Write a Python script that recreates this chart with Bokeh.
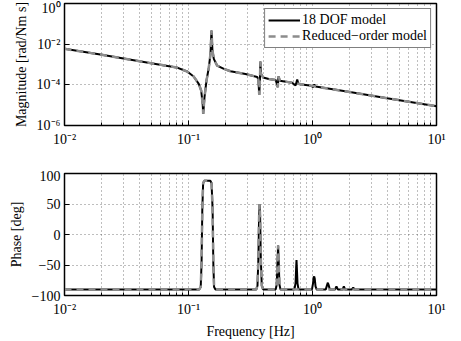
from bokeh.plotting import figure
from bokeh.models import Range1d, FixedTicker, Legend, LegendItem
from bokeh.layouts import column
from bokeh.embed import file_html
from bokeh.resources import INLINE

FONT = "Liberation Serif"

# ---- data (frequency in Hz) ----
freq_mag = [0.01, 0.02, 0.05, 0.08, 0.0976, 0.110, 0.121, 0.1265, 0.130, 0.1314,
            0.1346, 0.1397, 0.146, 0.1504, 0.1532, 0.156, 0.160, 0.170, 0.193,
            0.218, 0.288, 0.358, 0.366, 0.372, 0.377, 0.380, 0.384, 0.400, 0.444,
            0.505, 0.525, 0.532, 0.545, 0.686, 0.730, 0.753, 0.770, 0.980, 1.010,
            1.035, 1.060, 2.0, 4.0, 10.0]
mag_full = [5.9e-3, 3.0e-3, 1.15e-3, 7.2e-4, 4.5e-4, 2.56e-4, 1.12e-4, 5.26e-5, 1.2e-5, 3.76e-6,
            2.46e-5, 1.63e-4, 7.36e-4, 3.36e-3, 4.7e-2, 4.88e-3, 1.9e-3, 8.9e-4, 6.1e-4,
            4.68e-4, 3.4e-4, 2.45e-4, 1.8e-4, 3.2e-5, 2.0e-4, 1.4e-3, 3.5e-4, 2.3e-4, 1.95e-4,
            1.72e-4, 7.6e-5, 2.65e-4, 1.6e-4, 1.26e-4, 9.3e-5, 1.82e-4, 1.1e-4, 8.9e-5, 7.5e-5,
            1.05e-4, 8.3e-5, 4.4e-5, 2.2e-5, 8.9e-6]

freq_mag_red = [0.01, 0.02, 0.05, 0.08, 0.0976, 0.110, 0.121, 0.1265, 0.130, 0.1314,
                0.1346, 0.1397, 0.146, 0.1504, 0.1532, 0.156, 0.160, 0.170, 0.193,
                0.218, 0.288, 0.358, 0.366, 0.372, 0.377, 0.380, 0.384, 0.400, 0.444,
                0.505, 0.525, 0.532, 0.545, 0.686, 0.980, 2.0, 4.0, 10.0]
mag_red = [5.9e-3, 3.0e-3, 1.15e-3, 7.2e-4, 4.5e-4, 2.56e-4, 1.12e-4, 5.26e-5, 1.2e-5, 3.76e-6,
           2.46e-5, 1.63e-4, 7.36e-4, 3.36e-3, 4.7e-2, 4.88e-3, 1.9e-3, 8.9e-4, 6.1e-4,
           4.68e-4, 3.4e-4, 2.45e-4, 1.8e-4, 3.2e-5, 2.0e-4, 1.4e-3, 3.5e-4, 2.3e-4, 1.95e-4,
           1.72e-4, 7.6e-5, 2.65e-4, 1.6e-4, 1.26e-4, 8.9e-5, 4.4e-5, 2.2e-5, 8.9e-6]

freq_phase = [0.01, 0.122, 0.1255, 0.1275, 0.1292, 0.1312, 0.134, 0.150, 0.1535, 0.1565,
              0.1585, 0.1608, 0.165, 0.352, 0.360, 0.366, 0.371, 0.3745, 0.378, 0.383,
              0.390, 0.400, 0.505, 0.515, 0.522, 0.528, 0.534, 0.541, 0.552, 0.715,
              0.730, 0.738, 0.743, 0.748, 0.757, 0.772, 0.990, 1.010, 1.022, 1.032,
              1.042, 1.058, 1.080, 1.280, 1.310, 1.330, 1.350, 1.380, 1.520, 1.560,
              1.600, 1.750, 1.790, 1.830, 2.080, 2.130, 2.180, 10.0]
phase_full = [-90, -90, -86, -45, 40, 84, 88, 88, 84, 40,
              -45, -86, -90, -90, -84, -40, 30, 50, 30, -40,
              -84, -90, -90, -82, -45, -18, -45, -82, -90, -90,
              -80, -55, -42, -55, -80, -90, -90, -80, -70, -69,
              -72, -85, -90, -90, -83, -79, -83, -90, -90, -85,
              -90, -90, -85, -90, -90, -87, -90, -90]

freq_phase_red = [0.01, 0.122, 0.1255, 0.1275, 0.1292, 0.1312, 0.134, 0.150, 0.1535, 0.1565,
                  0.1585, 0.1608, 0.165, 0.352, 0.360, 0.366, 0.371, 0.3745, 0.378, 0.383,
                  0.390, 0.400, 0.505, 0.515, 0.522, 0.528, 0.534, 0.541, 0.552, 10.0]
phase_red = [-90, -90, -86, -45, 40, 84, 88, 88, 84, 40,
             -45, -86, -90, -90, -84, -40, 30, 50, 30, -40,
             -84, -90, -90, -82, -45, -18, -45, -82, -90, -90]

x_ticks = [0.01, 0.1, 1, 10]
x_tick_labels = ["10⁻²", "10⁻¹", "10⁰", "10¹"]
mag_ticks = [1e-6, 1e-4, 1e-2, 1]
mag_tick_labels = ["10⁻⁶", "10⁻⁴", "10⁻²", "10⁰"]
phase_ticks = [-100, -50, 0, 50, 100]
phase_tick_labels = ["−100", "−50", "0", "50", "100"]
series_names = ["18 DOF model", "Reduced−order model"]

x_minor = [m * d for d in [0.01, 0.1, 1] for m in range(2, 10)]


def style(p, yticks, ylabels, ylabel, xlabel=None):
    p.outline_line_color = "black"
    p.outline_line_width = 1.5
    p.background_fill_color = "white"
    p.border_fill_color = "white"
    p.xaxis.ticker = FixedTicker(ticks=x_ticks, minor_ticks=x_minor)
    p.xaxis.major_label_overrides = dict(zip(x_ticks, x_tick_labels))
    p.yaxis.ticker = FixedTicker(ticks=yticks, minor_ticks=[])
    p.yaxis.major_label_overrides = dict(zip(yticks, ylabels))
    for ax in list(p.xaxis) + list(p.yaxis):
        ax.axis_line_color = "black"
        ax.axis_line_width = 1
        ax.major_tick_in = 5
        ax.major_tick_out = 0
        ax.minor_tick_in = 3
        ax.minor_tick_out = 0
        ax.major_tick_line_color = "black"
        ax.minor_tick_line_color = "black"
        ax.major_label_text_font = FONT
        ax.major_label_text_font_size = "14px"
        ax.major_label_text_color = "black"
        ax.axis_label_text_font = FONT
        ax.axis_label_text_font_size = "14px"
        ax.axis_label_text_font_style = "normal"
        ax.axis_label_text_color = "black"
    p.xaxis.major_label_standoff = 6
    p.yaxis.major_label_standoff = 4
    p.yaxis.axis_label = ylabel
    p.yaxis.axis_label_standoff = 5
    if xlabel:
        p.xaxis.axis_label = xlabel
        p.xaxis.axis_label_standoff = 4
    for g in (p.xgrid, p.ygrid):
        g.grid_line_color = "#444444"
        g.grid_line_alpha = 0.7
        g.grid_line_dash = "1 3"
        g.grid_line_width = 1
    p.xgrid.minor_grid_line_color = "#444444"
    p.xgrid.minor_grid_line_alpha = 0.7
    p.xgrid.minor_grid_line_dash = "1 3"
    p.xgrid.ticker = FixedTicker(ticks=x_ticks, minor_ticks=x_minor)
    p.ygrid.ticker = FixedTicker(ticks=yticks, minor_ticks=[])


p1 = figure(width=461, height=170, x_axis_type="log", y_axis_type="log",
            x_range=Range1d(0.01, 10), y_range=Range1d(1e-6, 1),
            output_backend="svg", toolbar_location=None,
            min_border_left=64, min_border_right=25, min_border_top=3, min_border_bottom=45)
style(p1, mag_ticks, mag_tick_labels, "Magnitude [rad/Nm s]")
r1 = p1.line(freq_mag, mag_full, line_color="black", line_width=2)
r2 = p1.line(freq_mag_red, mag_red, line_color="#8c8c8c", line_width=2.5, line_dash="7 5")
legend = Legend(items=[LegendItem(label=series_names[0], renderers=[r1]),
                       LegendItem(label=series_names[1], renderers=[r2])],
                location="top_right")
legend.label_text_font = FONT
legend.label_text_font_size = "14px"
legend.label_text_color = "black"
legend.border_line_color = "black"
legend.border_line_width = 1
legend.background_fill_alpha = 1
legend.margin = 5
legend.padding = 3
legend.spacing = 0
legend.label_height = 14
legend.glyph_height = 14
legend.glyph_width = 32
legend.label_standoff = 2
p1.add_layout(legend)

p2 = figure(width=461, height=171, x_axis_type="log",
            x_range=Range1d(0.01, 10), y_range=Range1d(-100, 100),
            output_backend="svg", toolbar_location=None,
            min_border_left=64, min_border_right=25, min_border_top=3, min_border_bottom=45)
style(p2, phase_ticks, phase_tick_labels, "Phase [deg]", "Frequency [Hz]")
p2.line(freq_phase, phase_full, line_color="black", line_width=2)
p2.line(freq_phase_red, phase_red, line_color="#8c8c8c", line_width=2.5, line_dash="7 5")

layout = column(p1, p2, spacing=0)
open("out.html", "w").write(file_html(layout, INLINE))
